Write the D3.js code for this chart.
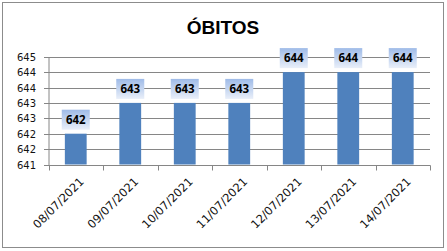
<!DOCTYPE html>
<html>
<head>
<meta charset="utf-8">
<script src="https://cdn.jsdelivr.net/npm/d3@7"></script>
<style>
  html, body { margin: 0; padding: 0; background: #fff; }
  svg { display: block; }
</style>
</head>
<body>
<script>
const categories = ["08/07/2021","09/07/2021","10/07/2021","11/07/2021","12/07/2021","13/07/2021","14/07/2021"];
const values = [642, 643, 643, 643, 644, 644, 644];
const yTicks = [641, 641.5, 642, 642.5, 643, 643.5, 644, 644.5];
const yTickLabels = ["641","642","642","643","643","644","644","645"];
const chartTitle = "ÓBITOS";

(function () {
const W = 447, H = 251;
const svg = d3.select("body").append("svg").attr("width", W).attr("height", H);

const defs = svg.append("defs");
const grad = defs.append("linearGradient").attr("id", "lblGrad")
  .attr("x1", 0).attr("y1", 0).attr("x2", 0).attr("y2", 1);
grad.append("stop").attr("offset", "0%").attr("stop-color", "#9fbbe8");
grad.append("stop").attr("offset", "100%").attr("stop-color", "#e9eff9");

// border
svg.append("rect").attr("x", 2.5).attr("y", 2.5).attr("width", 441).attr("height", 245)
  .attr("fill", "#fff").attr("stroke", "#8c8c8c").attr("stroke-width", 1);

svg.append("text").attr("x", 223).attr("y", 34).attr("text-anchor", "middle")
  .attr("font-family", "Liberation Sans, Arial, sans-serif").attr("font-weight", "bold")
  .attr("font-size", 19).attr("fill", "#000").text(chartTitle);

const pLeft = 48.5, pRight = 430, pTop = 56.7, pBottom = 164.5;
const x = d3.scaleBand().domain(categories).range([pLeft, pRight]).padding(0);
const y = d3.scaleLinear().domain([641, 644.5]).range([pBottom, pTop]);

// gridlines
svg.append("g").selectAll("line").data(yTicks.slice(1)).join("line")
  .attr("x1", pLeft).attr("x2", pRight)
  .attr("y1", d => Math.round(y(d)) + 0.5).attr("y2", d => Math.round(y(d)) + 0.5)
  .attr("stroke", "#868686").attr("stroke-width", 1);

// bars
const barW = x.step() * 0.4;
svg.append("g").selectAll("rect").data(values).join("rect")
  .attr("x", (d, i) => x(categories[i]) + x.bandwidth() / 2 - barW / 2)
  .attr("width", barW)
  .attr("y", d => y(d))
  .attr("height", d => pBottom - y(d))
  .attr("fill", "#4f81bd");

// y axis
const yAxis = d3.axisLeft(y).tickValues(yTicks).tickSize(5).tickPadding(8)
  .tickFormat((d, i) => yTickLabels[i]);
const gy = svg.append("g").attr("transform", `translate(${pLeft},0)`).call(yAxis);
gy.select(".domain").attr("stroke", "#868686").attr("d", `M0.5,${Math.round(pTop)+0.5}V${Math.round(pBottom)+0.5}`);
gy.selectAll(".tick line").attr("stroke", "#868686");
gy.selectAll(".tick").attr("transform", d => `translate(0.5,${Math.round(y(d)) + 0.5})`);
gy.selectAll("text").attr("font-family", "DejaVu Sans, sans-serif").attr("font-size", 10).attr("fill", "#111");

// x axis
const gx = svg.append("g").attr("transform", `translate(0,${Math.round(pBottom) + 0.5})`);
gx.append("line").attr("x1", pLeft).attr("x2", pRight + 0.5).attr("stroke", "#868686");
const boundaries = categories.map(c => x(c)).concat([pRight]);
gx.selectAll("line.tk").data(boundaries).join("line").attr("class", "tk")
  .attr("x1", d => Math.round(d) + 0.5).attr("x2", d => Math.round(d) + 0.5)
  .attr("y1", 0).attr("y2", 5).attr("stroke", "#868686");
gx.selectAll("text").data(categories).join("text")
  .attr("transform", d => `translate(${x(d) + x.bandwidth() / 2 + 6},${14}) rotate(-45)`)
  .attr("text-anchor", "end")
  .attr("dy", "0.35em")
  .attr("font-family", "DejaVu Sans, sans-serif").attr("font-size", 11.5).attr("fill", "#111")
  .text(d => d);

// data labels
const bw = 28, bh = 20;
const lbl = svg.append("g").selectAll("g").data(values).join("g")
  .attr("transform", (d, i) => `translate(${x(categories[i]) + x.bandwidth() / 2},${y(d) - 4 - bh / 2})`);
lbl.append("rect").attr("x", -bw / 2).attr("y", -bh / 2).attr("width", bw).attr("height", bh)
  .attr("fill", "url(#lblGrad)");
lbl.append("text").attr("text-anchor", "middle").attr("dy", "0.36em")
  .attr("font-family", "Open Sans, DejaVu Sans, sans-serif").attr("font-weight", "bold")
  .attr("font-size", 11.5).attr("fill", "#000").text(d => d);
})();
</script>
</body>
</html>
